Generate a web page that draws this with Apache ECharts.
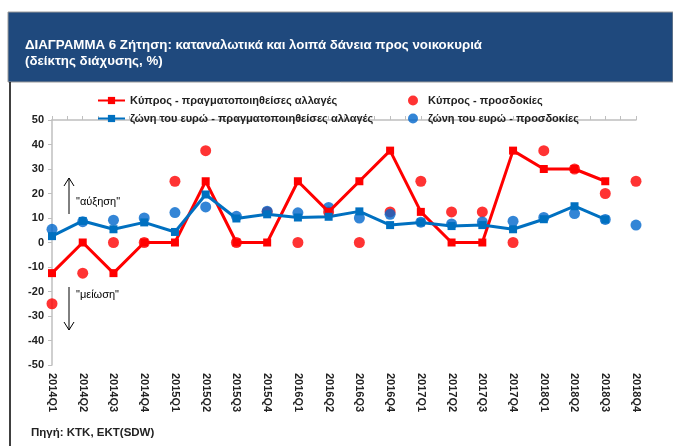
<!DOCTYPE html>
<html>
<head>
<meta charset="utf-8">
<script src="https://cdn.jsdelivr.net/npm/echarts@6/dist/echarts.min.js"></script>
<style>
  html, body { margin: 0; padding: 0; background: #fff; }
  #chart { width: 673px; height: 446px; }
</style>
</head>
<body>
<div id="chart"></div>
<script>
const quarters = ['2014Q1', '2014Q2', '2014Q3', '2014Q4', '2015Q1', '2015Q2', '2015Q3', '2015Q4',
  '2016Q1', '2016Q2', '2016Q3', '2016Q4', '2017Q1', '2017Q2', '2017Q3', '2017Q4',
  '2018Q1', '2018Q2', '2018Q3', '2018Q4'];
const cyRealized = [-12.5, 0, -12.5, 0, 0, 25, 0, 0, 25, 12.5, 25, 37.5, 12.5, 0, 0, 37.5, 30, 30, 25, null];
const euRealized = [2.6, 8.8, 5.4, 8.2, 4.3, 19.6, 9.8, 11.5, 10.2, 10.5, 12.7, 7.1, 8.2, 6.7, 7.1, 5.4, 9.5, 14.8, 9.4, null];
const cyExpected = [-25, -12.5, 0, 0, 25, 37.5, 0, 12.5, 0, 12.5, 0, 12.5, 25, 12.5, 12.5, 0, 37.5, 30, 20, 25];
const euExpected = [5.4, 8.5, 9.1, 10, 12.2, 14.5, 10.7, 12.8, 12.1, 14.3, 10, 11.5, 8.3, 7.6, 8.4, 8.7, 10.2, 11.8, 9.4, 7.1];

const names = [
  'Κύπρος - πραγματοποιηθείσες αλλαγές',
  'ζώνη του ευρώ - πραγματοποιηθείσες αλλαγές',
  'Κύπρος - προσδοκίες',
  'ζώνη του ευρώ - προσδοκίες'
];

// half-step ticks along the zero line
const tickSlots = Array.from({ length: quarters.length * 2 - 1 }, () => '');

const font = 'Liberation Sans, Arial, sans-serif';
const red = '#ff0000';
const blue = '#0070c0';

const chart = echarts.init(document.getElementById('chart'));

chart.setOption({
  animation: false,
  textStyle: { fontFamily: font },
  grid: { left: 52, right: 37, top: 120, bottom: 81 },
  legend: [
    {
      data: [names[0], names[1]],
      orient: 'vertical', left: 92, top: 90, itemGap: 7,
      itemWidth: 27, itemHeight: 9,
      textStyle: { fontSize: 11, fontWeight: 'bold', color: '#222' }
    },
    {
      data: [names[2], names[3]],
      orient: 'vertical', left: 403, top: 90, itemGap: 7,
      itemWidth: 10, itemHeight: 10, icon: 'circle',
      textStyle: { fontSize: 11, fontWeight: 'bold', color: '#222', padding: [0, 0, 0, 5] }
    }
  ],
  xAxis: [
    {
      type: 'category', data: quarters, boundaryGap: false,
      axisLine: { show: false }, axisTick: { show: false },
      axisLabel: { rotate: -90, fontSize: 11, fontWeight: 'bold', color: '#222', margin: 8, interval: 0 }
    },
    {
      type: 'category', data: tickSlots, boundaryGap: false,
      axisLine: { onZero: true, lineStyle: { color: '#bfbfbf', width: 1.5 } },
      axisTick: { interval: 0, length: 4, lineStyle: { color: '#bfbfbf' } },
      axisLabel: { show: false }
    }
  ],
  yAxis: {
    type: 'value', min: -50, max: 50, interval: 10,
    axisLine: { show: true, lineStyle: { color: '#bfbfbf', width: 1.5 } },
    axisTick: { show: true, length: 4, lineStyle: { color: '#bfbfbf' } },
    splitLine: { show: false },
    axisLabel: { fontSize: 11, fontWeight: 'bold', color: '#222', margin: 8 }
  },
  series: [
    {
      name: names[0], type: 'line', data: cyRealized,
      color: red, lineStyle: { width: 3 }, symbol: 'rect', symbolSize: 8, showAllSymbol: true
    },
    {
      name: names[1], type: 'line', data: euRealized,
      color: blue, lineStyle: { width: 3 }, symbol: 'rect', symbolSize: 8, showAllSymbol: true
    },
    {
      name: names[2], type: 'scatter', data: cyExpected,
      color: red, symbol: 'circle', symbolSize: 11
    },
    {
      name: names[3], type: 'scatter', data: euExpected,
      color: '#0066cc', symbol: 'circle', symbolSize: 11
    }
  ],
  graphic: [
    { type: 'rect', shape: { x: 8, y: 12, width: 665, height: 70 }, style: { fill: '#1f497d', stroke: '#9a9a9a', lineWidth: 1 } },
    {
      type: 'text', left: 25, top: 37,
      style: {
        text: 'ΔΙΑΓΡΑΜΜΑ 6 Ζήτηση: καταναλωτικά και λοιπά δάνεια προς νοικοκυριά\n(δείκτης διάχυσης, %)',
        fill: '#fff', font: 'bold 13.3px ' + font, lineHeight: 16
      }
    },
    { type: 'line', shape: { x1: 10, y1: 82, x2: 10, y2: 446 }, style: { stroke: '#000', lineWidth: 1.5 } },
    // up arrow and label
    { type: 'line', shape: { x1: 69, y1: 214, x2: 69, y2: 178 }, style: { stroke: '#000', lineWidth: 1 } },
    { type: 'polyline', shape: { points: [[64, 186], [69, 178], [74, 186]] }, style: { stroke: '#000', lineWidth: 1, fill: null } },
    { type: 'text', left: 76, top: 196, style: { text: '"αύξηση"', fill: '#000', font: '11px ' + font } },
    // down arrow and label
    { type: 'line', shape: { x1: 69, y1: 287, x2: 69, y2: 330 }, style: { stroke: '#000', lineWidth: 1 } },
    { type: 'polyline', shape: { points: [[64, 322], [69, 330], [74, 322]] }, style: { stroke: '#000', lineWidth: 1, fill: null } },
    { type: 'text', left: 76, top: 289, style: { text: '"μείωση"', fill: '#000', font: '11px ' + font } },
    {
      type: 'text', left: 31, top: 427,
      style: { text: 'Πηγή: ΚΤΚ, ΕΚΤ(SDW)', fill: '#222', font: 'bold 11.5px ' + font }
    }
  ]
});
</script>
</body>
</html>
